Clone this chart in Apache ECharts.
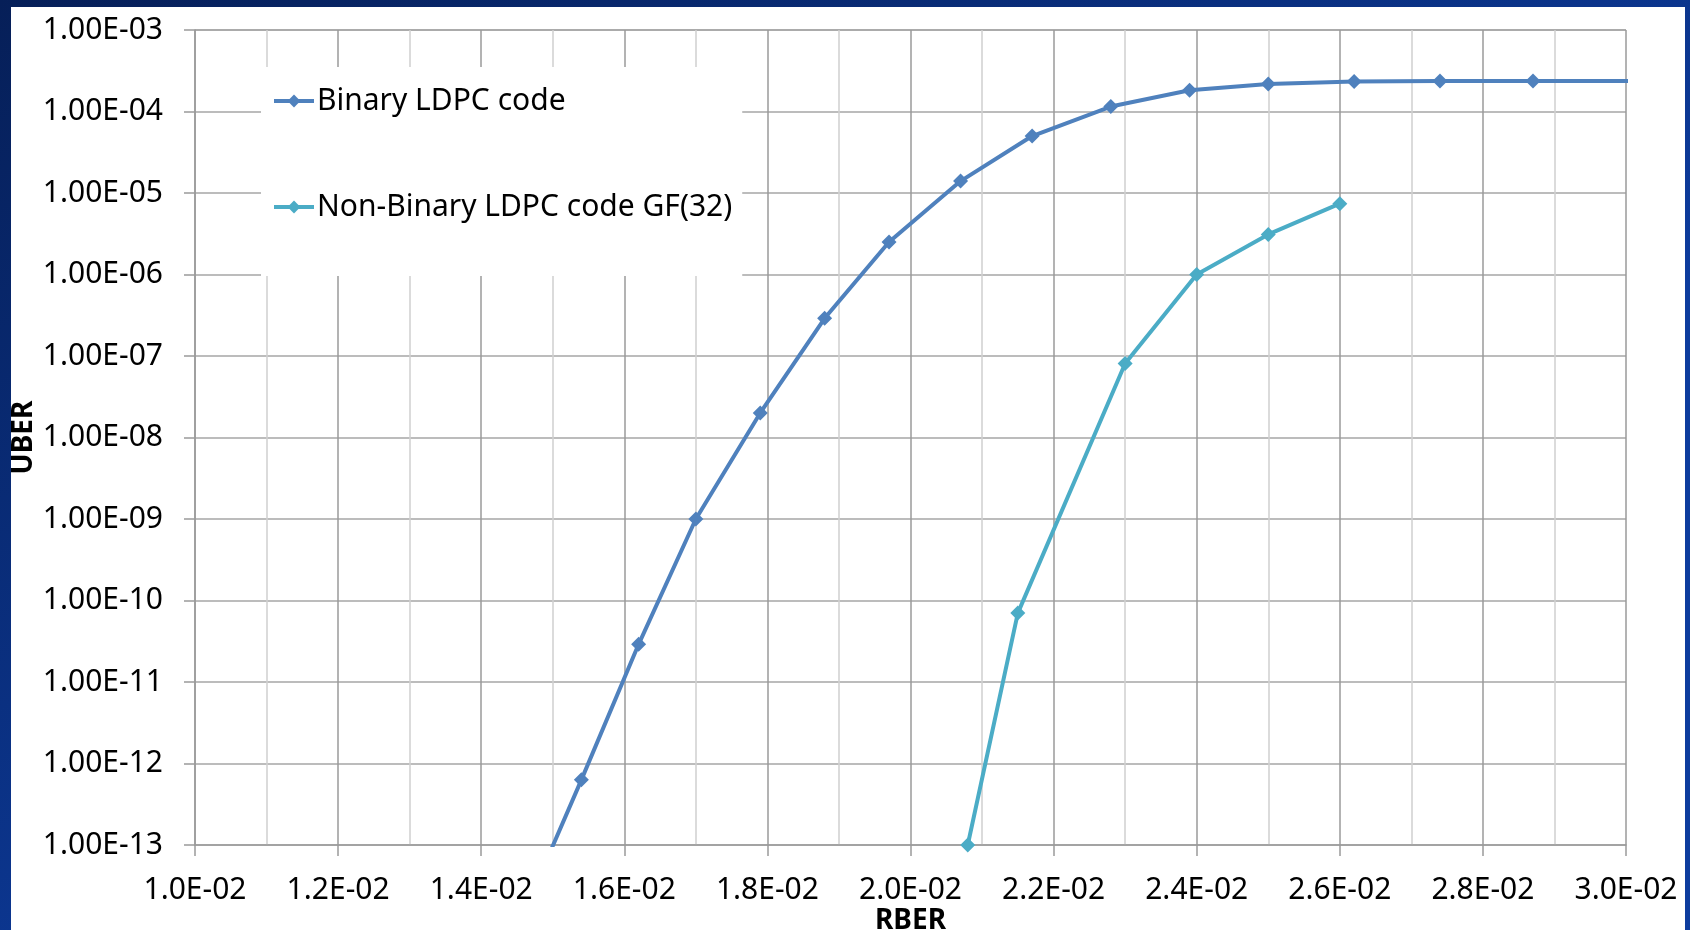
<!DOCTYPE html>
<html>
<head>
<meta charset="utf-8">
<title>UBER vs RBER</title>
<script src="https://cdn.jsdelivr.net/npm/echarts@6/dist/echarts.min.js"></script>
<style>
html, body { margin: 0; padding: 0; }
#chart { width: 1690px; height: 930px; }
</style>
</head>
<body>
<div id="chart"></div>
<script>
// RBER (x) values and UBER (y) values
var binaryRber = [0.0146, 0.0154, 0.0162, 0.0170, 0.0179, 0.0188, 0.0197, 0.0207, 0.0217, 0.0228, 0.0239, 0.0250, 0.0262, 0.0274, 0.0287, 0.0302];
var binaryUber = [1.5e-14, 6.3e-13, 2.9e-11, 1.0e-9, 2.0e-8, 2.9e-7, 2.5e-6, 1.4e-5, 5.0e-5, 1.15e-4, 1.82e-4, 2.18e-4, 2.33e-4, 2.37e-4, 2.37e-4, 2.37e-4];
var nbRber = [0.0208, 0.0215, 0.0230, 0.0240, 0.0250, 0.0260];
var nbUber = [1.0e-13, 7.0e-11, 8.1e-8, 1.0e-6, 3.1e-6, 7.4e-6];
var seriesNames = ['Binary LDPC code', 'Non-Binary LDPC code GF(32)'];

function pairs(xs, ys) {
    return xs.map(function (x, i) { return [x, ys[i]]; });
}

// 1.00E-03 style labels
function expLabel(v, digits) {
    var s = v.toExponential(digits).split('e');
    var e = parseInt(s[1], 10);
    var sign = e < 0 ? '-' : '+';
    var a = Math.abs(e);
    return s[0] + 'E' + sign + (a < 10 ? '0' + a : a);
}

var font = '"Noto Sans", "Open Sans", sans-serif';
var myChart = echarts.init(document.getElementById('chart'));
var option = {
    backgroundColor: {
        type: 'linear', x: 0, y: 0, x2: 0.3, y2: 1,
        colorStops: [
            { offset: 0, color: '#061f58' },
            { offset: 1, color: '#0d3c9e' }
        ]
    },
    animation: false,
    graphic: [{
        type: 'rect',
        z: -10,
        shape: { x: 11, y: 7, width: 1674, height: 930 },
        style: { fill: '#ffffff' }
    }],
    grid: {
        left: 195,
        top: 30,
        right: 64,
        bottom: 85,
        outerBoundsMode: 'none'
    },
    legend: {
        data: seriesNames,
        orient: 'vertical',
        left: 261,
        top: 67,
        backgroundColor: '#ffffff',
        padding: [16, 10, 51, 11],
        itemGap: 70,
        itemWidth: 40,
        itemHeight: 16,
        lineStyle: { width: 4 },
        textStyle: {
            fontFamily: font,
            fontSize: 30,
            lineHeight: 36,
            color: '#000000',
            padding: [0, 0, 0, -2]
        }
    },
    xAxis: {
        type: 'value',
        min: 0.010,
        max: 0.030,
        interval: 0.002,
        name: 'RBER',
        nameLocation: 'middle',
        nameGap: 62,
        nameMoveOverlap: false,
        nameTextStyle: { fontFamily: font, fontSize: 28, fontWeight: 'bold', color: '#000' },
        axisLine: { lineStyle: { color: '#9a9a9a', width: 1.5 } },
        axisTick: { show: true, length: 11, lineStyle: { color: '#9a9a9a', width: 1.5 } },
        axisLabel: {
            margin: 30,
            fontFamily: font,
            fontSize: 30,
            color: '#000',
            formatter: function (v) { return expLabel(v, 1); }
        },
        splitLine: { show: true, lineStyle: { color: '#9a9a9a', width: 1.5 } },
        minorTick: { show: false, splitNumber: 2 },
        minorSplitLine: { show: true, lineStyle: { color: '#cfcfcf', width: 1.5 } }
    },
    yAxis: {
        type: 'log',
        logBase: 10,
        min: 1e-13,
        max: 1e-3,
        interval: 1,
        name: 'UBER',
        nameLocation: 'middle',
        nameGap: 157,
        nameMoveOverlap: false,
        nameTextStyle: { fontFamily: font, fontSize: 28, fontWeight: 'bold', color: '#000' },
        axisLine: { show: true, lineStyle: { color: '#9a9a9a', width: 1.5 } },
        axisTick: { show: true, length: 11, lineStyle: { color: '#9a9a9a', width: 1.5 } },
        axisLabel: {
            margin: 32,
            fontFamily: font,
            fontSize: 30,
            color: '#000',
            formatter: function (v) { return expLabel(v, 2); }
        },
        splitLine: { show: true, lineStyle: { color: '#a6a6a6', width: 1.5 } }
    },
    series: [
        {
            name: seriesNames[0],
            type: 'line',
            data: pairs(binaryRber, binaryUber),
            symbol: 'diamond',
            symbolSize: 15,
            clip: true,
            lineStyle: { color: '#4f81bd', width: 4 },
            itemStyle: { color: '#4f81bd' }
        },
        {
            name: seriesNames[1],
            type: 'line',
            data: pairs(nbRber, nbUber),
            symbol: 'diamond',
            symbolSize: 15,
            clip: true,
            lineStyle: { color: '#4bacc6', width: 4 },
            itemStyle: { color: '#4bacc6' }
        }
    ]
};
myChart.setOption(option);
</script>
</body>
</html>
